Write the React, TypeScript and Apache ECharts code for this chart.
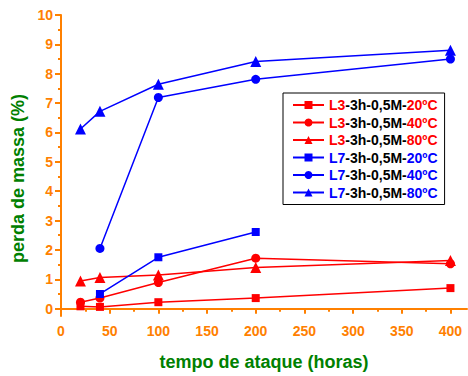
import React, { useEffect, useRef } from 'react';
import * as echarts from 'echarts';

const hoursL3 = [20, 40, 100, 200, 400];
const l3_20 = [0.08, 0.06, 0.22, 0.36, 0.7];
const l3_40 = [0.22, 0.36, 0.89, 1.72, 1.53];
const l3_80 = [0.94, 1.06, 1.15, 1.4, 1.64];

const hoursL7_20 = [40, 100, 200];
const l7_20 = [0.5, 1.75, 2.61];
const hoursL7_40 = [40, 100, 200, 400];
const l7_40 = [2.05, 7.19, 7.81, 8.5];
const hoursL7_80 = [20, 40, 100, 200, 400];
const l7_80 = [6.12, 6.72, 7.64, 8.42, 8.8];

const seriesNames = [
  'L3-3h-0,5M-20ºC',
  'L3-3h-0,5M-40ºC',
  'L3-3h-0,5M-80ºC',
  'L7-3h-0,5M-20ºC',
  'L7-3h-0,5M-40ºC',
  'L7-3h-0,5M-80ºC',
];

const xMajor = [0, 50, 100, 150, 200, 250, 300, 350, 400];
const xMinor = [25, 75, 125, 175, 225, 275, 325, 375];
const yMajor = [0, 1, 2, 3, 4, 5, 6, 7, 8, 9, 10];
const yMinor = [0.5, 1.5, 2.5, 3.5, 4.5, 5.5, 6.5, 7.5, 8.5, 9.5];

const RED = '#FF0000';
const BLUE = '#0000FF';
const ORANGE = '#FF8000';
const GREEN = '#008000';
const FONT = 'Liberation Sans, Arial, sans-serif';

const pairs = (xs: number[], ys: number[]) => xs.map((x, i) => [x, ys[i]]);

export default function App() {
  const ref = useRef<HTMLDivElement>(null);
  useEffect(() => {
    document.body.style.margin = '0';
    const chart = echarts.init(ref.current!, undefined, { renderer: 'svg' });
    const mk = (name: string, xs: number[], ys: number[], color: string, symbol: string, size: number) => ({
      name,
      type: 'line',
      data: pairs(xs, ys),
      symbol,
      symbolSize: size,
      itemStyle: { color },
      lineStyle: { color, width: 1.5 },
      xAxisIndex: 0,
      yAxisIndex: 0,
    });
    const axisLineStyle = { color: ORANGE, width: 2 };
    chart.setOption({
      animation: false,
      grid: { left: 61, right: 1, top: 15, bottom: 54, containLabel: false },
      xAxis: [
        {
          type: 'value',
          min: 0,
          max: 417,
          position: 'bottom',
          axisLine: { show: true, lineStyle: axisLineStyle },
          axisTick: { show: true, customValues: xMajor, length: 5, lineStyle: axisLineStyle },
          axisLabel: {
            customValues: xMajor,
            color: ORANGE,
            fontWeight: 'bold',
            fontSize: 14,
            fontFamily: FONT,
            margin: 8,
          },
          splitLine: { show: false },
          name: 'tempo de ataque (horas)',
          nameLocation: 'middle',
          nameGap: 37,
          nameTextStyle: { color: GREEN, fontWeight: 'bold', fontSize: 18, fontFamily: FONT },
        },
        {
          type: 'value',
          min: 0,
          max: 417,
          position: 'bottom',
          axisLine: { show: false },
          axisTick: { show: true, customValues: xMinor, length: 3, lineStyle: axisLineStyle },
          axisLabel: { show: false },
          splitLine: { show: false },
        },
      ],
      yAxis: [
        {
          type: 'value',
          min: -0.25,
          max: 10,
          position: 'left',
          axisLine: { show: true, lineStyle: axisLineStyle },
          axisTick: { show: true, customValues: yMajor, length: 6, lineStyle: axisLineStyle },
          axisLabel: {
            customValues: yMajor,
            color: ORANGE,
            fontWeight: 'bold',
            fontSize: 14,
            fontFamily: FONT,
            margin: 8,
          },
          splitLine: { show: false },
          name: 'perda de massa (%)',
          nameLocation: 'middle',
          nameGap: 32,
          nameTextStyle: {
            color: GREEN,
            fontWeight: 'bold',
            fontSize: 18,
            fontFamily: FONT,
            padding: [0, 26, 0, 0],
          },
        },
        {
          type: 'value',
          min: -0.25,
          max: 10,
          position: 'left',
          axisLine: { show: false },
          axisTick: { show: true, customValues: yMinor, length: 3, lineStyle: axisLineStyle },
          axisLabel: { show: false },
          splitLine: { show: false },
        },
      ],
      legend: {
        orient: 'vertical',
        left: 283,
        top: 93,
        padding: [5, 7, 5, 9],
        itemGap: 3.5,
        itemWidth: 31,
        itemHeight: 10,
        borderColor: '#000',
        borderWidth: 1,
        backgroundColor: '#fff',
        data: seriesNames,
        formatter: (name: string) => {
          const pre = name.slice(0, 2);
          const mid = name.slice(2, 11);
          const temp = name.slice(11);
          const s = pre === 'L3' ? 'r' : 'b';
          return `{${s}|${pre}}{k|${mid}}{${s}|${temp}}`;
        },
        textStyle: {
          fontFamily: FONT,
          fontWeight: 'bold',
          fontSize: 14,
          color: '#000',
          rich: {
            r: { color: RED, fontWeight: 'bold', fontSize: 14, fontFamily: FONT },
            b: { color: BLUE, fontWeight: 'bold', fontSize: 14, fontFamily: FONT },
            k: { color: '#000', fontWeight: 'bold', fontSize: 14, fontFamily: FONT },
          },
        },
      },
      series: [
        mk(seriesNames[0], hoursL3, l3_20, RED, 'rect', 8),
        mk(seriesNames[1], hoursL3, l3_40, RED, 'circle', 9),
        mk(seriesNames[2], hoursL3, l3_80, RED, 'triangle', 11),
        mk(seriesNames[3], hoursL7_20, l7_20, BLUE, 'rect', 8),
        mk(seriesNames[4], hoursL7_40, l7_40, BLUE, 'circle', 9),
        mk(seriesNames[5], hoursL7_80, l7_80, BLUE, 'triangle', 11),
      ],
    });
    return () => chart.dispose();
  }, []);
  return <div ref={ref} style={{ width: 468, height: 376 }} />;
}
